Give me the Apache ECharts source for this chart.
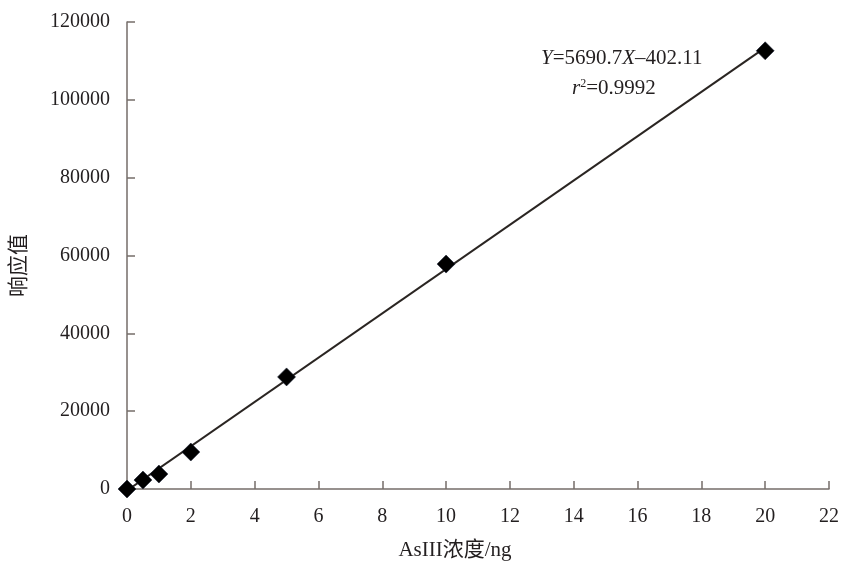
<!DOCTYPE html>
<html>
<head>
<meta charset="utf-8">
<script src="https://cdn.jsdelivr.net/npm/echarts@6/dist/echarts.min.js"></script>
<style>
	html, body { margin: 0; padding: 0; background: #fff; }
	#chart { width: 845px; height: 561px; }
</style>
</head>
<body>
<div id="chart"></div>
<script>
// measured points
var concX = [0, 0.5, 1, 2, 5, 10, 20];
var response = [0, 2300, 3850, 9500, 28800, 57800, 112600];
// fitted line end points (Y = 5690.7X - 402.11)
var fitX = [0, 20];
var fitY = [-402.11, 113411.89];
var xTicks = {min: 0, max: 22, interval: 2};
var yTicks = {min: 0, max: 120000, interval: 20000};

var serif = '"Liberation Serif", "Noto Sans CJK SC", serif';
var axisColor = '#756d69';
var textColor = '#231f20';

var chart = echarts.init(document.getElementById('chart'));

var pts = [];
for(var i = 0; i < concX.length; i++){
	pts.push([concX[i], response[i]]);
}
var fitPts = [];
for(var j = 0; j < fitX.length; j++){
	fitPts.push([fitX[j], fitY[j]]);
}

var option = {
	animation: false,
	backgroundColor: '#fff',
	grid: {left: 127, right: 16, top: 22, bottom: 72, containLabel: false, outerBoundsMode: 'none'},
	xAxis: {
		type: 'value',
		min: xTicks.min, max: xTicks.max, interval: xTicks.interval,
		name: 'AsIII浓度/ng',
		nameLocation: 'middle',
		nameGap: 51,
		nameTextStyle: {fontFamily: serif, fontSize: 21, color: textColor, padding: [0, 46, 0, 0]},
		axisLine: {lineStyle: {color: axisColor, width: 1.5}},
		axisTick: {inside: true, length: 8, lineStyle: {color: axisColor, width: 1.5}},
		axisLabel: {fontFamily: serif, fontSize: 20, color: textColor, margin: 18},
		splitLine: {show: false}
	},
	yAxis: {
		type: 'value',
		min: yTicks.min, max: yTicks.max, interval: yTicks.interval,
		name: '响应值',
		nameLocation: 'middle',
		nameGap: 97,
		nameTextStyle: {fontFamily: serif, fontSize: 21, color: textColor, padding: [0, 20, 0, 0]},
		axisLine: {show: true, lineStyle: {color: axisColor, width: 1.5}},
		axisTick: {show: true, inside: true, length: 8, lineStyle: {color: axisColor, width: 1.5}},
		axisLabel: {
			fontFamily: serif, fontSize: 20, color: textColor, margin: 17,
			formatter: function(v){ return String(v); }
		},
		splitLine: {show: false}
	},
	series: [
		{
			type: 'line',
			data: fitPts,
			symbol: 'none',
			lineStyle: {color: '#2a2522', width: 2},
			silent: true,
			z: 2
		},
		{
			type: 'scatter',
			data: pts,
			symbol: 'diamond',
			symbolSize: [18, 18],
			itemStyle: {color: '#000', opacity: 1, borderColor: '#1c2436', borderWidth: 0.6},
			z: 3
		}
	],
	graphic: [
		{
			type: 'text',
			left: 541, top: 48,
			style: {
				text: '{i|Y}=5690.7{i|X}–402.11',
				font: '21px ' + serif,
				fill: textColor,
				rich: {i: {fontStyle: 'italic', fontFamily: serif, fontSize: 21, fill: textColor}}
			}
		},
		{
			type: 'text',
			left: 572, top: 78,
			style: {
				text: '{i|r}{s|2}=0.9992',
				font: '21px ' + serif,
				fill: textColor,
				rich: {
					i: {fontStyle: 'italic', fontFamily: serif, fontSize: 21, fill: textColor},
					s: {fontFamily: serif, fontSize: 12, fill: textColor, verticalAlign: 'top', padding: [0, 0, 9, 0]}
				}
			}
		}
	]
};

chart.setOption(option);
</script>
</body>
</html>
